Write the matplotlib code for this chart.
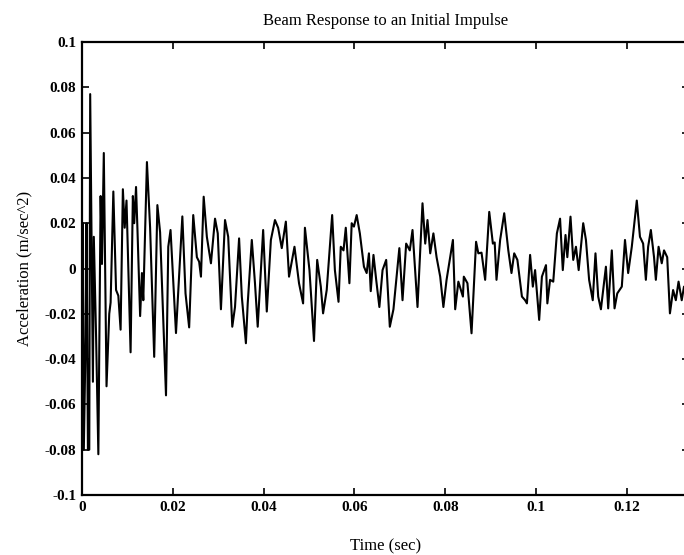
import numpy as np
import matplotlib
matplotlib.use("Agg")
import matplotlib.pyplot as plt

# turning points (time in s, acceleration in m/s^2)
t = [0.0000, 0.0002, 0.0004, 0.0008, 0.0010, 0.0013, 0.0016, 0.0018,
     0.0024, 0.0026, 0.0031, 0.0036, 0.0041, 0.0044, 0.0048, 0.0054,
     0.0060, 0.0063, 0.0069, 0.0075, 0.0080, 0.0085, 0.0090, 0.0094,
     0.0098, 0.0107, 0.0112, 0.0115, 0.0119, 0.0122, 0.0128, 0.0132,
     0.0135, 0.0143, 0.0150, 0.0159, 0.0166, 0.0172, 0.0185, 0.0190,
     0.0195, 0.0207, 0.0221, 0.0228, 0.0236, 0.0245, 0.0253, 0.0258,
     0.0262, 0.0268, 0.0275, 0.0284, 0.0293, 0.0299, 0.0306, 0.0315,
     0.0322, 0.0331, 0.0337, 0.0346, 0.0352, 0.0361, 0.0365, 0.0374,
     0.0381, 0.0387, 0.0399, 0.0407, 0.0416, 0.0425, 0.0432, 0.0440,
     0.0449, 0.0456, 0.0468, 0.0478, 0.0487, 0.0491, 0.0501, 0.0511,
     0.0518, 0.0526, 0.0531, 0.0539, 0.0551, 0.0557, 0.0565, 0.0570,
     0.0576, 0.0581, 0.0589, 0.0594, 0.0599, 0.0605, 0.0612, 0.0621,
     0.0627, 0.0632, 0.0636, 0.0642, 0.0648, 0.0655, 0.0662, 0.0670,
     0.0678, 0.0686, 0.0699, 0.0706, 0.0714, 0.0722, 0.0728, 0.0739,
     0.0744, 0.0750, 0.0756, 0.0761, 0.0767, 0.0774, 0.0781, 0.0789,
     0.0796, 0.0803, 0.0817, 0.0822, 0.0829, 0.0839, 0.0841, 0.0849,
     0.0858, 0.0868, 0.0873, 0.0880, 0.0888, 0.0897, 0.0905, 0.0909,
     0.0913, 0.0921, 0.0930, 0.0939, 0.0946, 0.0952, 0.0959, 0.0969,
     0.0976, 0.0980, 0.0987, 0.0993, 0.0998, 0.1007, 0.1013, 0.1022,
     0.1025, 0.1031, 0.1038, 0.1046, 0.1053, 0.1059, 0.1065, 0.1069,
     0.1076, 0.1082, 0.1088, 0.1094, 0.1104, 0.1110, 0.1117, 0.1125,
     0.1131, 0.1137, 0.1143, 0.1148, 0.1154, 0.1159, 0.1167, 0.1173,
     0.1179, 0.1189, 0.1196, 0.1203, 0.1211, 0.1222, 0.1229, 0.1236,
     0.1242, 0.1247, 0.1253, 0.1260, 0.1264, 0.1270, 0.1277, 0.1282,
     0.1289, 0.1295, 0.1302, 0.1308, 0.1314, 0.1321, 0.1326, 0.1335]

acc = [0.000, 0.020, -0.080, -0.030, 0.020, -0.080, -0.080, 0.077,
       -0.050, 0.014, -0.030, -0.082, 0.032, 0.002, 0.051, -0.052,
       -0.020, -0.015, 0.034, -0.0095, -0.012, -0.027, 0.035, 0.018,
       0.030, -0.037, 0.032, 0.020, 0.036, 0.018, -0.021, -0.002,
       -0.014, 0.047, 0.018, -0.039, 0.028, 0.016, -0.056, 0.0096,
       0.017, -0.0285, 0.023, -0.011, -0.026, 0.0236, 0.005, 0.003,
       -0.0036, 0.0317, 0.014, 0.0023, 0.022, 0.0155, -0.018, 0.0214,
       0.014, -0.0257, -0.017, 0.0133, -0.0124, -0.033, -0.0154, 0.0126,
       -0.0065, -0.0257, 0.017, -0.019, 0.0126, 0.0214, 0.018, 0.009,
       0.0207, -0.0036, 0.0096, -0.0065, -0.0154, 0.018, -0.0007, -0.032,
       0.0038, -0.008, -0.0198, -0.0095, 0.0236, -0.0007, -0.0147, 0.0096,
       0.008, 0.018, -0.0065, 0.020, 0.0185, 0.0236, 0.0155, 0.0008,
       -0.002, 0.0067, -0.010, 0.006, -0.005, -0.017, -0.0007, 0.0038,
       -0.0257, -0.018, 0.009, -0.014, 0.011, 0.008, 0.017, -0.017,
       0.0038, 0.0288, 0.011, 0.0214, 0.0067, 0.0155, 0.005, -0.0036,
       -0.017, -0.005, 0.0126, -0.018, -0.0058, -0.0124, -0.0036, -0.0065,
       -0.0286, 0.0118, 0.0067, 0.007, -0.005, 0.025, 0.011, 0.0115,
       -0.005, 0.0126, 0.0244, 0.008, -0.002, 0.0067, 0.0038, -0.0124,
       -0.014, -0.0154, 0.006, -0.008, -0.0007, -0.0227, -0.0036, 0.0015,
       -0.0154, -0.005, -0.0058, 0.0155, 0.022, -0.0007, 0.0148, 0.005,
       0.0229, 0.0038, 0.0096, -0.0007, 0.020, 0.0126, -0.005, -0.014,
       0.0067, -0.0124, -0.018, -0.0095, 0.0008, -0.0176, 0.008, -0.0176,
       -0.011, -0.008, 0.0126, -0.002, 0.0096, 0.030, 0.014, 0.011,
       -0.005, 0.0096, 0.017, 0.005, -0.005, 0.0096, 0.0023, 0.008,
       0.005, -0.0198, -0.0095, -0.014, -0.0058, -0.014, -0.008, -0.012]

xticks = [0, 0.02, 0.04, 0.06, 0.08, 0.1, 0.12]
xticklabels = ["0", "0.02", "0.04", "0.06", "0.08", "0.1", "0.12"]
yticks = [0.1, 0.08, 0.06, 0.04, 0.02, 0, -0.02, -0.04, -0.06, -0.08, -0.1]
yticklabels = ["0.1", "0.08", "0.06", "0.04", "0.02", "0",
               "-0.02", "-0.04", "-0.06", "-0.08", "-0.1"]

plt.rcParams['font.family'] = ['Liberation Serif', 'DejaVu Serif']

fig = plt.figure(figsize=(6.84, 5.55), dpi=100)
# axes runs a little past the right edge, as in the cropped scan
ax = fig.add_axes([0.1199, 0.1081, 0.8874, 0.8162])

ax.plot(t, acc, color='black', lw=1.5)

ax.set_xlim(0, 0.1337)
ax.set_ylim(-0.1, 0.1)
ax.set_xticks(xticks)
ax.set_xticklabels(xticklabels, fontsize=11, fontweight='bold')
ax.set_yticks(yticks)
ax.set_yticklabels(yticklabels, fontsize=11, fontweight='bold')
ax.tick_params(direction='in', length=5, width=1.2, top=True, right=True, pad=4)
for s in ax.spines.values():
    s.set_linewidth(1.6)

ax.set_title("Beam Response to an Initial Impulse", fontsize=12, pad=12)
ax.set_xlabel("Time (sec)", fontsize=12, labelpad=18)
ax.set_ylabel("Acceleration (m/sec^2)", fontsize=12, labelpad=9)

fig.savefig("out.png", dpi=100)
